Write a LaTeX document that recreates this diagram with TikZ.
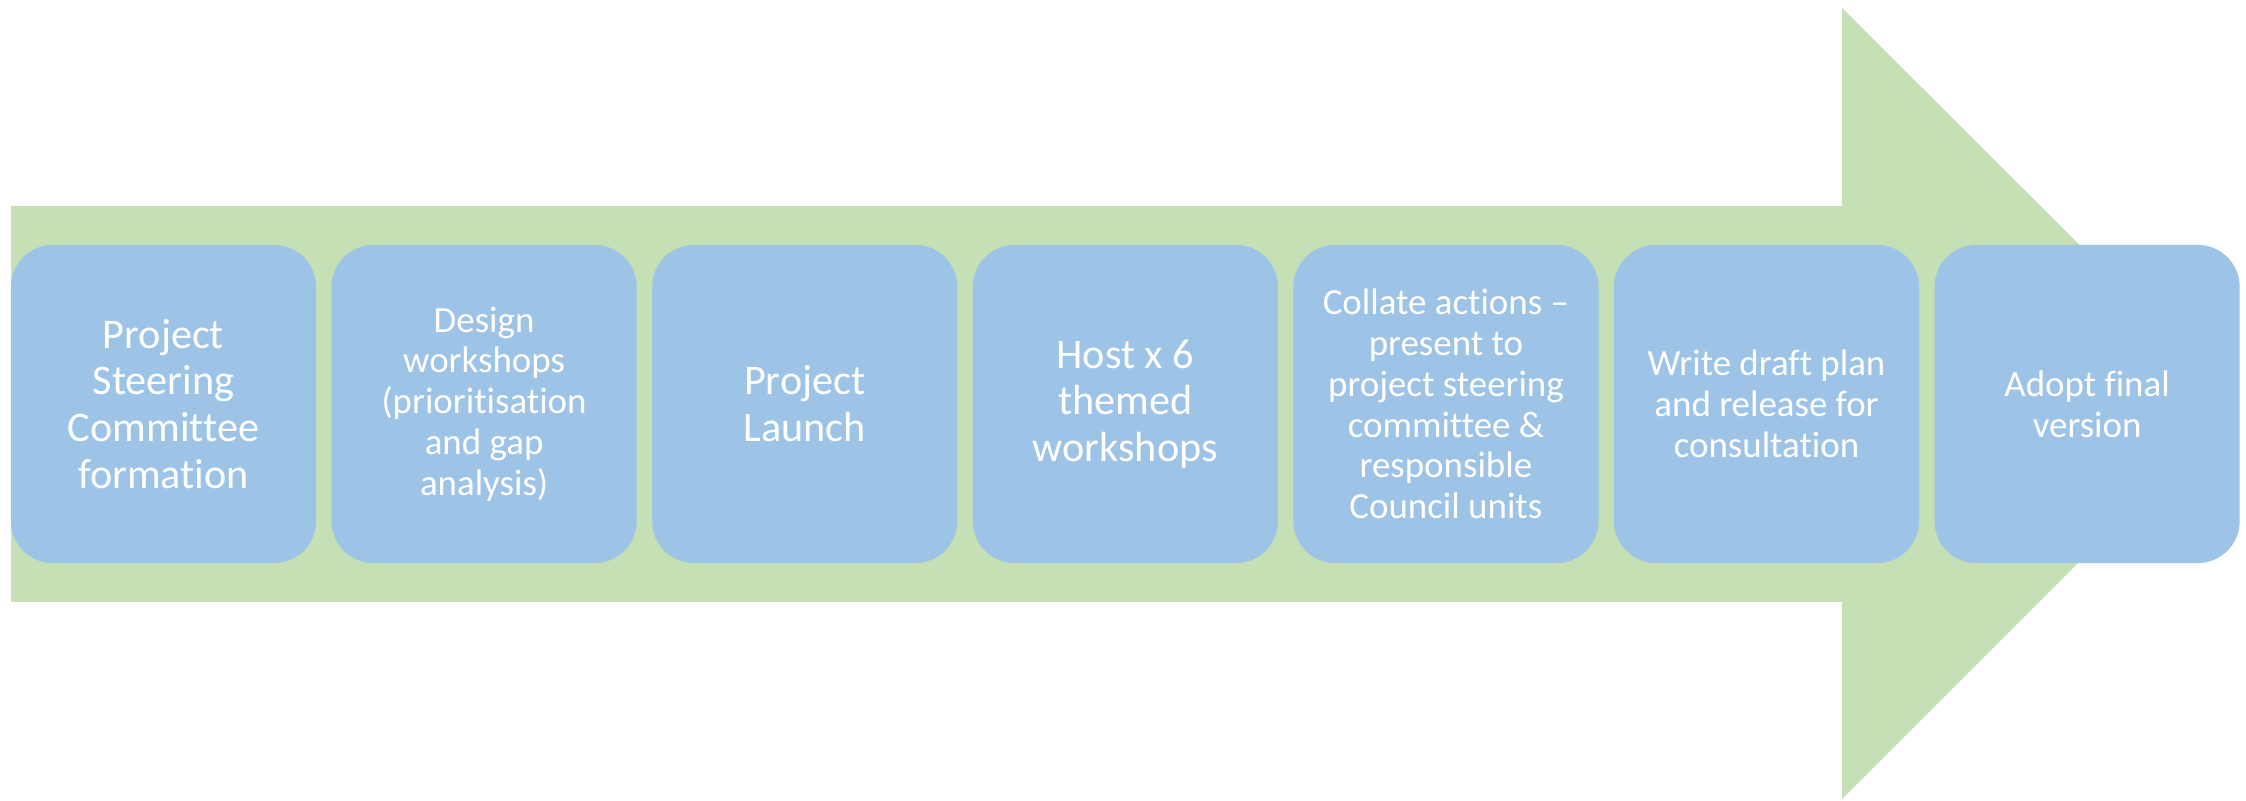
\documentclass[tikz,border=0pt]{standalone}
\usepackage{fontspec}
\setmainfont{Carlito}[Ligatures=TeX, RawFeature={-liga;-clig;-calt;-dlig}]
\usetikzlibrary{positioning}
\definecolor{arrowgreen}{HTML}{C5E0B4}
\definecolor{stageblue}{HTML}{9DC3E6}
\tikzset{
	stage/.style={fill=stageblue, text=white, align=center, inner sep=0pt,
		minimum width=3.05cm, minimum height=3.18cm, rounded corners=0.42cm},
	bigtext/.style={font=\fontsize{12}{13.3}\selectfont},
	smalltext/.style={font=\fontsize{10.5}{11.6}\selectfont}
}

\begin{document}
\begin{tikzpicture}[x=0.01cm,y=-0.01cm]
\useasboundingbox (0,0) rectangle (2246,801);
\fill[arrowgreen] (11,206) -- (1842,206) -- (1842,8) -- (2238,403) -- (1842,799) -- (1842,602) -- (11,602) -- cycle;
\foreach \s/\t [count=\i from 0] in {
	bigtext/{Project\\Steering\\Committee\\formation},
	smalltext/{Design\\workshops\\(prioritisation\\and gap\\analysis)},
	bigtext/{Project\\Launch},
	bigtext/{Host x 6\\themed\\workshops},
	smalltext/{Collate actions –\\present to\\project steering\\committee \&\\responsible\\Council units},
	smalltext/{Write draft plan\\and release for\\consultation},
	smalltext/{Adopt final\\version}}
\node[stage, \s] (s-\i) at (163.5 + 320.6*\i, 404) {\t};
\end{tikzpicture}
\end{document}
